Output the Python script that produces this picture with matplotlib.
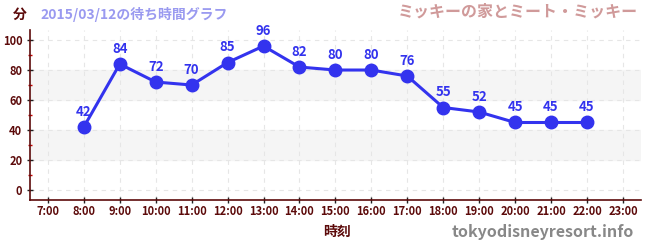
import matplotlib
matplotlib.use("Agg")
import matplotlib.pyplot as plt
from matplotlib.ticker import MultipleLocator

plt.rcParams['font.family'] = ['Noto Sans CJK JP', 'DejaVu Sans']

# data
hours = [8, 9, 10, 11, 12, 13, 14, 15, 16, 17, 18, 19, 20, 21, 22]
waits = [42, 84, 72, 70, 85, 96, 82, 80, 80, 76, 55, 52, 45, 45, 45]
tick_hours = list(range(7, 24))
tick_labels = [f"{h}:00" for h in tick_hours]

axis_col = '#5c0a0a'
line_col = '#3333ee'

fig = plt.figure(figsize=(6.5, 2.5), dpi=100)
ax = fig.add_axes([0.046, 0.2, 0.94, 0.68])

ax.set_xlim(6.5, 23.5)
ax.set_ylim(-6.7, 106.7)

# alternating bands
for lo, hi in [(20, 40), (60, 80)]:
    ax.axhspan(lo, hi, color='#f5f5f5', zorder=0)

# grid
for h in tick_hours:
    ax.axvline(h, color='#e6e6e6', lw=0.8, ls=(0, (4, 4)), zorder=1)
for v in range(0, 101, 20):
    ax.axhline(v, color='#e6e6e6', lw=0.8, ls=(0, (4, 4)), zorder=1)

ax.plot(hours, waits, color=line_col, lw=2.2, marker='o', ms=9, zorder=3)
for h, w in zip(hours, waits):
    ax.annotate(str(w), (h, w), xytext=(0, 6), textcoords='offset points',
                ha='center', va='bottom', color=line_col, fontsize=9.5,
                fontweight='bold', zorder=4)

ax.set_xticks(tick_hours)
ax.set_xticklabels(tick_labels)
ax.set_yticks(range(0, 101, 20))
ax.yaxis.set_minor_locator(MultipleLocator(10))

for s in ['top', 'right']:
    ax.spines[s].set_visible(False)
for s in ['left', 'bottom']:
    ax.spines[s].set_color(axis_col)
    ax.spines[s].set_linewidth(1.2)

ax.tick_params(axis='both', which='major', colors='#222222', labelcolor=axis_col,
               labelsize=8, length=4, width=1, direction='inout')
ax.tick_params(axis='x', which='major', pad=1.5)
ax.tick_params(axis='y', which='minor', colors='#cc0000', length=3, width=1,
               direction='inout')
for lbl in ax.get_xticklabels() + ax.get_yticklabels():
    lbl.set_fontweight('bold')

fig.text(0.03, 0.94, '分', color=axis_col, fontsize=10, fontweight='bold',
         ha='center', va='center')
fig.text(0.062, 0.94, '2015/03/12の待ち時間グラフ', color='#9a9af0', fontsize=10,
         fontweight='bold', ha='left', va='center')
fig.text(0.982, 0.955, 'ミッキーの家とミート・ミッキー', color='#d09a9a', fontsize=11.5,
         fontweight='bold', ha='right', va='center')
fig.text(0.518, 0.072, '時刻', color=axis_col, fontsize=10, fontweight='bold',
         ha='center', va='center')
fig.text(0.975, 0.072, 'tokyodisneyresort.info', color='#888888', fontsize=11.5,
         fontweight='bold', ha='right', va='center')

fig.savefig('out.png', dpi=100)
